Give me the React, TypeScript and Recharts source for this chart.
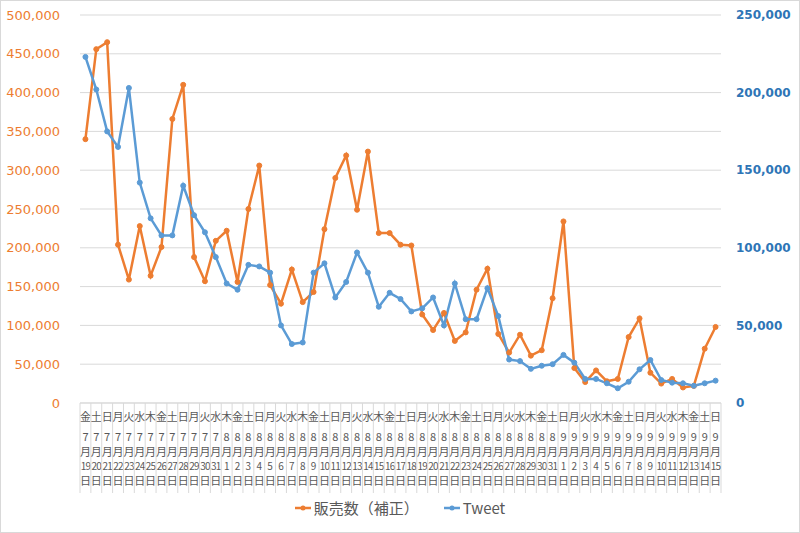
import React from 'react';
import { LineChart, Line, XAxis, YAxis, CartesianGrid, Legend } from 'recharts';

const categories = [
  '7/19','7/20','7/21','7/22','7/23','7/24','7/25','7/26','7/27','7/28','7/29','7/30','7/31',
  '8/1','8/2','8/3','8/4','8/5','8/6','8/7','8/8','8/9','8/10','8/11','8/12','8/13','8/14','8/15','8/16',
  '8/17','8/18','8/19','8/20','8/21','8/22','8/23','8/24','8/25','8/26','8/27','8/28','8/29','8/30','8/31',
  '9/1','9/2','9/3','9/4','9/5','9/6','9/7','9/8','9/9','9/10','9/11','9/12','9/13','9/14','9/15',
];

const weekdays = [
  '金','土','日','月','火','水','木','金','土','日','月','火','水',
  '木','金','土','日','月','火','水','木','金','土','日','月','火','水','木','金',
  '土','日','月','火','水','木','金','土','日','月','火','水','木','金','土',
  '日','月','火','水','木','金','土','日','月','火','水','木','金','土','日',
];

const sales = [
  340000, 456000, 465000, 204000, 159000, 228000, 164000, 201000, 366000, 410000,
  188000, 157000, 209000, 222000, 156000, 250000, 306000, 152000, 128000, 172000,
  130000, 143000, 224000, 290000, 319000, 249000, 324000, 219000, 219000, 204000,
  203000, 114000, 94000, 116000, 80000, 91000, 146000, 173000, 89000, 65000,
  88000, 61000, 68000, 135000, 234000, 45000, 27000, 42000, 28000, 31000,
  85000, 109000, 39000, 25000, 31000, 20000, 22000, 70000, 98000,
];

const tweets = [
  223000, 202000, 175000, 165000, 203000, 142000, 119000, 108000, 108000, 140000,
  121000, 110000, 94000, 77000, 73000, 89000, 88000, 84000, 50000, 38000,
  39000, 84000, 90000, 68000, 78000, 97000, 84000, 62000, 71000, 67000,
  59000, 61000, 68000, 50000, 77000, 54000, 54000, 74000, 56000, 28000,
  27000, 22000, 24000, 25000, 31000, 26000, 15500, 15500, 12700, 9500,
  13700, 21700, 27700, 14800, 13100, 12700, 11100, 12700, 14400,
];

const leftTicks = [0, 50000, 100000, 150000, 200000, 250000, 300000, 350000, 400000, 450000, 500000];
const rightTicks = [0, 50000, 100000, 150000, 200000, 250000];

const data = categories.map((c, i) => ({ date: c, sales: sales[i], tweet: tweets[i] }));

const ORANGE = '#ED7D31';
const BLUE = '#5B9BD5';
const GRID = '#d9d9d9';
const TEXT = '#595959';
const CJK = '"Noto Sans CJK JP", "Noto Sans", sans-serif';

const CHART_W = 800;
const CHART_H = 533;
const PLOT_LEFT = 80;
const PLOT_RIGHT = 721;
const BAND = (PLOT_RIGHT - PLOT_LEFT) / categories.length;

const fmt = (v: number) => v.toLocaleString('en-US');

function DateTick(props: any) {
  const { x, y, payload, index } = props;
  const [m, d] = String(payload.value).split('/');
  const wd = weekdays[index];
  const left = x - BAND / 2;
  const right = x + BAND / 2;
  const isLast = index === categories.length - 1;
  return (
    <g>
      <line x1={left} y1={y} x2={left} y2={y + 90} stroke={GRID} strokeWidth={1} />
      {isLast && <line x1={right} y1={y} x2={right} y2={y + 90} stroke={GRID} strokeWidth={1} />}
      <g fontFamily={CJK} fontSize={11} fill={TEXT} textAnchor="middle">
        <text x={x} y={y + 18}>{wd}</text>
        <text x={x} y={y + 38}>{m}</text>
        <text x={x} y={y + 53}>月</text>
        <text x={x} y={y + 67} fontSize={10} letterSpacing={d.length > 1 ? -0.8 : 0}>{d}</text>
        <text x={x} y={y + 82}>日</text>
      </g>
    </g>
  );
}

function LegendIcon({ color }: { color: string }) {
  return (
    <svg width={16} height={10} style={{ marginRight: 3 }}>
      <line x1={0} y1={5} x2={16} y2={5} stroke={color} strokeWidth={2.5} />
      <circle cx={8} cy={5} r={2.5} fill={color} />
    </svg>
  );
}

function LegendContent() {
  return (
    <div
      style={{
        display: 'flex',
        justifyContent: 'center',
        alignItems: 'center',
        fontFamily: CJK,
        fontSize: 15,
        color: TEXT,
        lineHeight: '20px',
      }}
    >
      <div style={{ display: 'flex', alignItems: 'center', marginRight: 25 }}>
        <LegendIcon color={ORANGE} />
        <span>販売数（補正）</span>
      </div>
      <div style={{ display: 'flex', alignItems: 'center' }}>
        <LegendIcon color={BLUE} />
        <span>Tweet</span>
      </div>
    </div>
  );
}

export default function App() {
  return (
    <div style={{ position: 'absolute', left: 0, top: 0, width: CHART_W, height: CHART_H, background: '#fff' }}>
      <LineChart
        width={CHART_W}
        height={CHART_H}
        data={data}
        margin={{ top: 15, right: 0, bottom: 0, left: 0 }}
      >
        <CartesianGrid yAxisId="left" vertical={false} stroke={GRID} strokeWidth={1} />
        <XAxis
          dataKey="date"
          interval={0}
          height={130}
          padding={{ left: BAND / 2, right: BAND / 2 }}
          tickLine={false}
          tickSize={0}
          tickMargin={0}
          axisLine={{ stroke: GRID }}
          tick={<DateTick />}
        />
        <YAxis
          yAxisId="left"
          orientation="left"
          width={80}
          domain={[0, 500000]}
          ticks={leftTicks}
          tickFormatter={fmt}
          axisLine={false}
          tickLine={false}
          tickSize={0}
          tickMargin={20}
          tick={{ fill: ORANGE, fontSize: 13, fontFamily: '"DejaVu Sans", Verdana, sans-serif' }}
        />
        <YAxis
          yAxisId="right"
          orientation="right"
          width={79}
          domain={[0, 250000]}
          ticks={rightTicks}
          tickFormatter={fmt}
          axisLine={false}
          tickLine={false}
          tickSize={0}
          tickMargin={15}
          tick={{ fill: '#2E75B6', fontSize: 12, fontWeight: 'bold', fontFamily: '"DejaVu Sans", Verdana, sans-serif', textAnchor: 'start' }}
        />
        <Line
          yAxisId="left"
          type="linear"
          dataKey="sales"
          name="販売数（補正）"
          stroke={ORANGE}
          strokeWidth={2.5}
          dot={{ r: 2.5, fill: ORANGE, stroke: ORANGE, strokeWidth: 1 }}
          activeDot={false}
          isAnimationActive={false}
        />
        <Line
          yAxisId="right"
          type="linear"
          dataKey="tweet"
          name="Tweet"
          stroke={BLUE}
          strokeWidth={2.5}
          dot={{ r: 2.5, fill: BLUE, stroke: BLUE, strokeWidth: 1 }}
          activeDot={false}
          isAnimationActive={false}
        />
        <Legend
          verticalAlign="middle"
          align="center"
          layout="horizontal"
          content={<LegendContent />}
          wrapperStyle={{ top: 498, left: 0, width: CHART_W, height: 22 }}
        />
      </LineChart>
      <div
        style={{
          position: 'absolute',
          left: 0,
          top: 0,
          width: CHART_W,
          height: CHART_H,
          boxSizing: 'border-box',
          border: `1px solid ${GRID}`,
          pointerEvents: 'none',
        }}
      />
    </div>
  );
}
